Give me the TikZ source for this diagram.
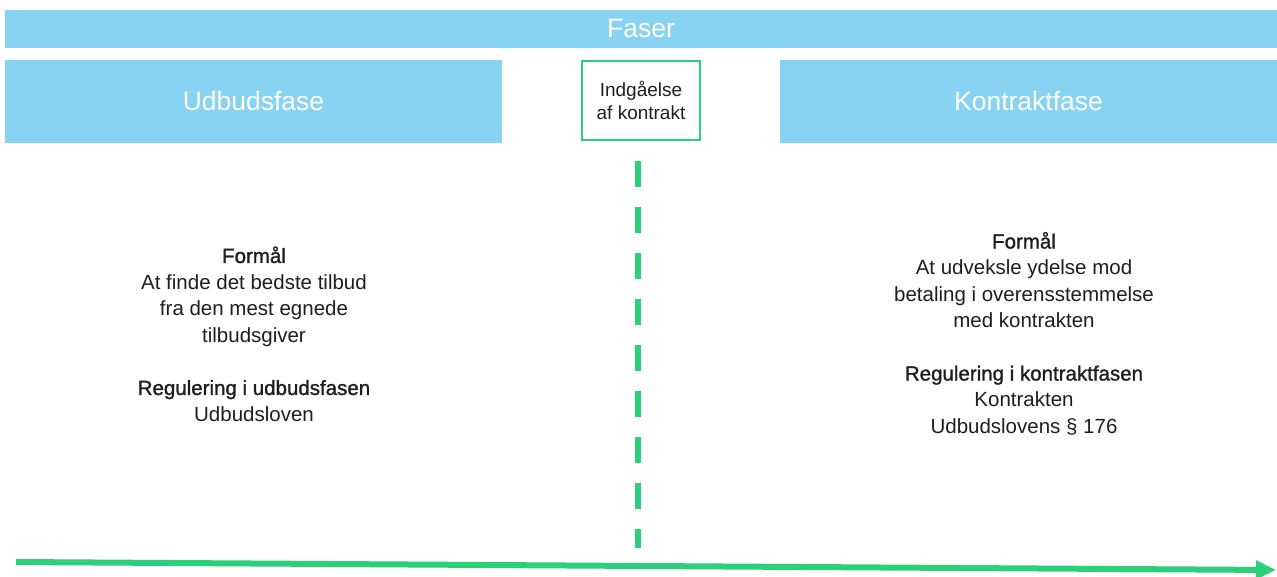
\documentclass[tikz,border=0pt]{standalone}
\usepackage{fontspec}
\setmainfont{Liberation Sans}
\newfontfamily\medfont[FakeBold=1.3]{Liberation Sans}
\usetikzlibrary{arrows.meta}
\definecolor{fblue}{RGB}{137,211,242}
\definecolor{fgreen}{RGB}{44,208,122}
\definecolor{ftext}{RGB}{30,30,30}
\newcommand{\hd}[1]{{\medfont #1}}
\begin{document}
\begin{tikzpicture}[x=1pt,y=-1pt,
  bluebox/.style={fill=fblue, draw=none, inner sep=0pt, text=white, font=\fontsize{26.5}{30}\selectfont},
  greenbox/.style={draw=fgreen, line width=2pt, fill=white, inner sep=0pt, align=center, text=ftext, font=\fontsize{19}{23}\selectfont},
  bodytext/.style={align=center, text=ftext, inner sep=0pt, font=\fontsize{20.5}{26.4}\selectfont},
  greenline/.style={draw=fgreen, line width=6pt}
]
\useasboundingbox (0,0) rectangle (1277,576);
\node[bluebox, minimum width=1272pt, minimum height=38pt] (faser) at (641,29) {Faser};
\node[bluebox, minimum width=497pt, minimum height=83pt] (udbud) at (253.5,101.5) {Udbudsfase};
\node[bluebox, minimum width=497pt, minimum height=83pt] (kontrakt) at (1028.5,101.5) {Kontraktfase};
\node[greenbox, minimum width=118pt, minimum height=79pt] (indg) at (641,100.5) {Indgåelse\\af kontrakt};

\coordinate (dtop) at (638,161);
\coordinate (dbot) at (638,548);
\draw[greenline, dash pattern=on 26pt off 20pt] (dtop) -- (dbot);

\coordinate (astart) at (16,562);
\coordinate (aend) at (1276,570);
\draw[greenline, -{Triangle[length=20pt,width=18pt]}] (astart) -- (aend);

\node[bodytext] (left) at (254,334) {\hd{Formål}\\At finde det bedste tilbud\\fra den mest egnede\\tilbudsgiver\\[26.4pt]\hd{Regulering i udbudsfasen}\\Udbudsloven};
\node[bodytext] (right) at (1024,333.5) {\hd{Formål}\\At udveksle ydelse mod\\betaling i overensstemmelse\\med kontrakten\\[26.4pt]\hd{Regulering i kontraktfasen}\\Kontrakten\\Udbudslovens § 176};
\end{tikzpicture}
\end{document}
